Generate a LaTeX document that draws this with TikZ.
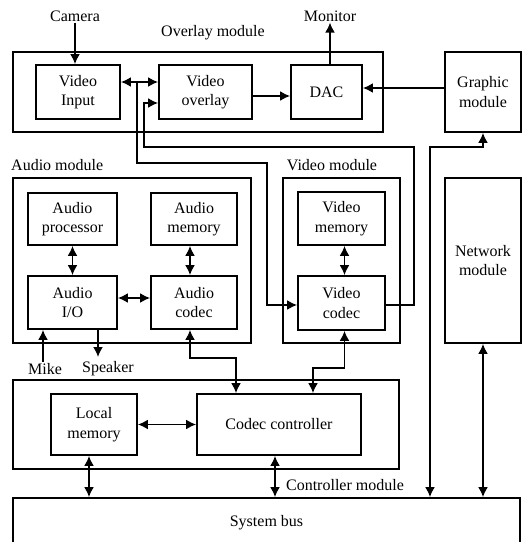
\documentclass[tikz,border=0pt]{standalone}
\usepackage{fontspec}
\setmainfont{Liberation Serif}
\usetikzlibrary{arrows.meta}
\begin{document}
\begin{tikzpicture}[x=1pt,y=-1pt,
  every node/.style={font=\fontsize{16}{19.5}\selectfont},
  blk/.style={draw,line width=1.8pt,align=center,inner sep=0pt},
  wire/.style={line width=1.8pt},
  tip/.style={Latex[length=10pt,width=10pt]},
  arr/.style={wire,-{Latex[length=10pt,width=10pt]}},
  darr/.style={wire,{Latex[length=10pt,width=10pt]}-{Latex[length=10pt,width=10pt]}},
  lbl/.style={inner sep=1pt}]
\useasboundingbox (0,0) rectangle (526,542);
\clip (0,0) rectangle (526,542);
% modules
\node[blk,minimum width=370,minimum height=80] (overlay) at (198,92) {};
\node[blk,minimum width=238,minimum height=165] (audiomod) at (132,260.5) {};
\node[blk,minimum width=117,minimum height=165] (videomod) at (341.5,260.5) {};
\node[blk,minimum width=386,minimum height=89] (ctrlmod) at (206,424.5) {};
% blocks
\node[blk,minimum width=84,minimum height=54] (vin) at (78,92) {Video\\Input};
\node[blk,minimum width=93,minimum height=54] (vov) at (205.5,92) {Video\\overlay};
\node[blk,minimum width=71,minimum height=54] (dac) at (326.5,92) {DAC};
\node[blk,minimum width=76,minimum height=80] (graphic) at (483,92) {Graphic\\module};
\node[blk,minimum width=89,minimum height=52] (aproc) at (72.5,219) {Audio\\processor};
\node[blk,minimum width=86,minimum height=52] (amem) at (194,219) {Audio\\memory};
\node[blk,minimum width=89,minimum height=53] (aio) at (72.5,302.5) {Audio\\I/O};
\node[blk,minimum width=86,minimum height=53] (acodec) at (194,302.5) {Audio\\codec};
\node[blk,minimum width=87,minimum height=53] (vmem) at (341.5,218.5) {Video\\memory};
\node[blk,minimum width=87,minimum height=54] (vcodec) at (341.5,303) {Video\\codec};
\node[blk,minimum width=76,minimum height=165] (network) at (483,260.5) {Network\\module};
\node[blk,minimum width=86,minimum height=61] (localmem) at (94,424.5) {Local\\memory};
\node[blk,minimum width=164,minimum height=61] (codecctrl) at (279,424.5) {Codec controller};
\node[blk,minimum width=507,minimum height=50] (sysbus) at (266.5,523) {System bus};
% labels
\node[lbl] (camera) at (75,16) {Camera};
\node[lbl] (monitor) at (330,16) {Monitor};
\node[lbl] (ovl) at (213,33) {Overlay module};
\node[lbl,anchor=west] (audl) at (10,165) {Audio module};
\node[lbl] (vidl) at (332,165) {Video module};
\node[lbl] (ctrll) at (345,485) {Controller module};
\node[lbl] (mike) at (45,369) {Mike};
\node[lbl] (speaker) at (108,369) {Speaker};
% coordinates
\coordinate (j1) at (137,82);
\coordinate (c1) at (267,163);
\coordinate (c2) at (414,147);
\coordinate (c3) at (144,147);
\coordinate (g1) at (430,147);
\coordinate (c5) at (236,358);
\coordinate (c6) at (313,368);
\coordinate (sp) at (98,357);
\coordinate (mk) at ([xshift=-2pt]mike.north);
\coordinate (b1) at ([xshift=-5pt]localmem.south);
\coordinate (b2) at ([xshift=-4pt]codecctrl.south);
% overlay connections
\draw[arr] (camera.south) -- (camera.south |- vin.north);
\draw[arr] (monitor.south |- dac.north) -- (monitor.south);
\draw[darr] ([yshift=10pt]vin.east) -- ([yshift=10pt]vov.west);
\draw[arr] ([yshift=-4pt]vov.east) -- ([yshift=-4pt]dac.west);
\draw[arr] ([yshift=4pt]graphic.west) -- ([yshift=4pt]dac.east);
\draw[arr] (j1) |- (c1) |- ([yshift=-2pt]vcodec.west);
\draw[arr] ([yshift=-2pt]vcodec.east) -| (c2) -- (c3) |- ([yshift=-11pt]vov.west);
\draw[darr] (g1 |- sysbus.north) -- (g1) -| (graphic.south);
\draw[darr] (network.south) -- (network.south |- sysbus.north);
% audio / video
\draw[darr] (aproc.south) -- (aio.north);
\draw[darr] ([xshift=-4pt]amem.south) -- ([xshift=-4pt]acodec.north);
\draw[darr] ([xshift=3pt]vmem.south) -- ([xshift=3pt]vcodec.north);
\draw[darr] ([yshift=4.5pt]aio.east) -- ([yshift=4.5pt]acodec.west);
\draw[arr] (mk) -- (mk |- aio.south);
\draw[arr] (sp |- aio.south) -- (sp);
% controller
\draw[darr] ([xshift=-4pt]acodec.south) |- (c5) -- (c5 |- codecctrl.north);
\draw[darr] ([xshift=3pt]vcodec.south) |- (c6) -- (c6 |- codecctrl.north);
\draw[darr] (localmem.east) -- (codecctrl.west);
\draw[darr] (b1) -- (b1 |- sysbus.north);
\draw[darr] (b2) -- (b2 |- sysbus.north);
\end{tikzpicture}
\end{document}
